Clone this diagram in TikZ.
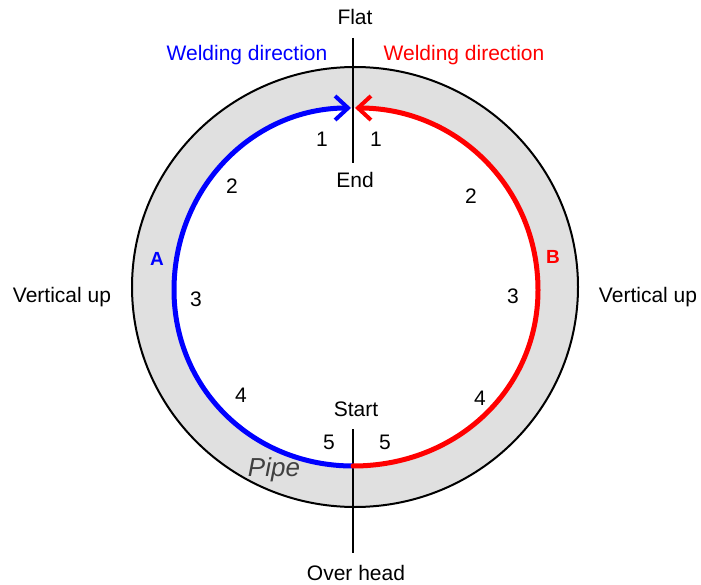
\documentclass[tikz,border=0pt]{standalone}
\usepackage{fontspec}
\setmainfont{Liberation Sans}
\usetikzlibrary{arrows.meta}
\definecolor{pipegray}{RGB}{224,224,224}
\definecolor{pipetext}{RGB}{64,64,64}
\begin{document}
\begin{tikzpicture}[x=1pt,y=-1pt,
  lbl/.style={font=\fontsize{21}{25}\selectfont, inner sep=0pt, anchor=center},
  num/.style={lbl},
  axis/.style={line width=2pt, black},
  weld/.style={line width=5pt, line cap=round, line join=round,
     -{Straight Barb[length=13pt,width=24pt,line width=4pt]}}]
\useasboundingbox (0,0) rectangle (701,585);
% pipe
\fill[pipegray] (355,287) ellipse [x radius=223, y radius=220];
\draw[line width=2pt] (355,287) ellipse [x radius=223, y radius=220];
% key points of the inner boundary
\coordinate (bot) at (353,466);
\coordinate (lft) at (174,290);
\coordinate (rgt) at (538,290);
\coordinate (top) at (353,108);
% inner white
\fill[white] (bot) .. controls (253,466) and (174,389) .. (lft)
  .. controls (174,188) and (253,108) .. (top)
  .. controls (457,108) and (538,188) .. (rgt)
  .. controls (538,389) and (457,466) .. (bot) -- cycle;
% axes
\coordinate (t1) at (353,38);
\coordinate (t2) at (353,163);
\coordinate (b1) at (353,429);
\coordinate (b2) at (353,553);
\draw[axis] (t1) -- (t2);
\draw[axis] (b1) -- (b2);
% weld paths
\draw[weld, blue] (bot) .. controls (253,466) and (174,389) .. (lft)
  .. controls (174,188) and (253,108) .. (351,108);
\draw[weld, red] (bot) .. controls (457,466) and (538,389) .. (rgt)
  .. controls (538,188) and (457,108) .. (355,108);
% labels
\node[lbl] (flat) at (355,17) {Flat};
\node[lbl] (end) at (355,180) {End};
\node[lbl] (start) at (356,409) {Start};
\node[lbl] (over) at (356,573) {Over head};
\node[lbl, blue] (wdl) at (247,55) {Welding direction};
\node[lbl, red] (wdr) at (464,55) {Welding direction};
\node[lbl] (vul) at (62,297) {Vertical up};
\node[lbl] (vur) at (648,297) {Vertical up};
\node[lbl, blue, font=\fontsize{19}{23}\selectfont\bfseries] (A) at (157,259) {A};
\node[lbl, red, font=\fontsize{19}{23}\selectfont\bfseries] (B) at (553,257) {B};
\node[num] (a1) at (322,139) {1};
\node[num] (a2) at (232,186) {2};
\node[num] (a3) at (196,299) {3};
\node[num] (a4) at (241,395) {4};
\node[num] (a5) at (329,442) {5};
\node[num] (b1n) at (376,139) {1};
\node[num] (b2n) at (471,196) {2};
\node[num] (b3n) at (513,296) {3};
\node[num] (b4n) at (480,398) {4};
\node[num] (b5n) at (385,442) {5};
\node[lbl, pipetext, font=\fontsize{26}{30}\selectfont\itshape] (pipe) at (274,470) {Pipe};
\end{tikzpicture}
\end{document}
